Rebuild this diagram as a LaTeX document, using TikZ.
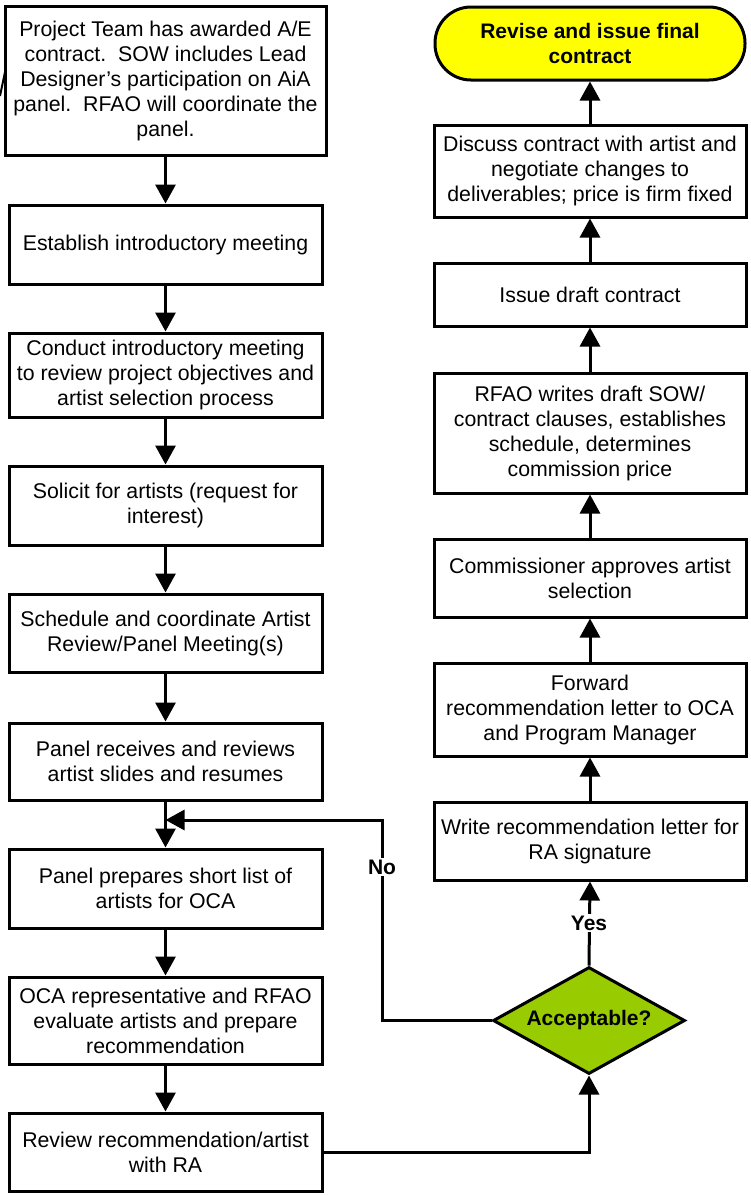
\documentclass[tikz,border=0pt]{standalone}
\usepackage{fontspec}
\setmainfont{Liberation Sans}
\usetikzlibrary{shapes.geometric,arrows.meta}
\definecolor{termyellow}{RGB}{255,255,0}
\definecolor{diagreen}{RGB}{153,204,0}
\begin{document}
\begin{tikzpicture}[x=1pt,y=-1pt,
  box/.style={draw,line width=3pt,fill=white,align=center,inner sep=0pt,
    font=\fontsize{21.3}{25}\selectfont},
  lbox/.style={box,minimum width=313pt},
  rbox/.style={box,minimum width=312pt},
  arr/.style={line width=3pt,-{Triangle[length=19pt,width=20pt]}},
  lbl/.style={font=\fontsize{21}{25}\selectfont\bfseries,fill=white,inner sep=2pt}]
\path[use as bounding box, fill=white] (0,0) rectangle (751,1195);

% left column
\node[box,minimum width=321pt,minimum height=149pt] (b1) at (165.5,80.5)
  {Project Team has awarded A/E\\contract.\ \ SOW includes Lead\\Designer’s participation on AiA\\panel.\ \ RFAO will coordinate the\\panel.};
\node[lbox,minimum height=79pt] (b2) at (165.5,244.5) {Establish introductory meeting};
\node[lbox,minimum height=84pt] (b3) at (165.5,375) {Conduct introductory meeting\\to review project objectives and\\artist selection process};
\node[lbox,minimum height=79pt] (b4) at (165.5,505.5) {Solicit for artists (request for\\interest)};
\node[lbox,minimum height=78pt] (b5) at (165.5,633) {Schedule and coordinate Artist\\Review/Panel Meeting(s)};
\node[lbox,minimum height=77pt] (b6) at (165.5,761.5) {Panel receives and reviews\\artist slides and resumes};
\node[lbox,minimum height=79pt] (b7) at (165.5,888.5) {Panel prepares short list of\\artists for OCA};
\node[lbox,minimum height=87pt] (b8) at (165.5,1020.5) {OCA representative and RFAO\\evaluate artists and prepare\\recommendation};
\node[lbox,minimum height=78pt] (b9) at (165.5,1152) {Review recommendation/artist\\with RA};

% right column
\node[draw,line width=3pt,fill=termyellow,rounded corners=36pt,minimum width=310pt,
  minimum height=73pt,inner sep=0pt,align=center,
  font=\fontsize{21}{25}\selectfont\bfseries] (t) at (590,43.5) {Revise and issue final\\contract};
\node[rbox,minimum height=92pt] (r1) at (590,171) {Discuss contract with artist and\\negotiate changes to\\deliverables; price is firm fixed};
\node[rbox,minimum height=63pt] (r2) at (590,294.5) {Issue draft contract};
\node[rbox,minimum height=120pt] (r3) at (590,433) {RFAO writes draft SOW/\\contract clauses, establishes\\schedule, determines\\commission price};
\node[rbox,minimum height=78pt] (r4) at (590,578) {Commissioner approves artist\\selection};
\node[rbox,minimum height=93pt] (r5) at (590,709.5) {Forward\\recommendation letter to OCA\\and Program Manager};
\node[rbox,minimum height=78pt] (r6) at (590,841) {Write recommendation letter for\\RA signature};
\node[diamond,aspect=1.8,draw,line width=3pt,fill=diagreen,minimum width=192pt,minimum height=107pt,
  inner sep=0pt,font=\fontsize{21}{25}\selectfont\bfseries] (d) at (589,1020.5) {Acceptable?};

% left column arrows
\draw[arr] (b1) -- (b2);
\draw[arr] (b2) -- (b3);
\draw[arr] (b3) -- (b4);
\draw[arr] (b4) -- (b5);
\draw[arr] (b5) -- (b6);
\draw[arr] (b6) -- (b7);
\draw[arr] (b7) -- (b8);
\draw[arr] (b8) -- (b9);

% to diamond
\draw[arr] (b9.east) -| (d.south);

% yes
\draw[arr] (d.north) -- (r6.south);
\node[lbl] (yes) at (589,923) {Yes};

% no loop
\coordinate (fb) at (382,820);
\coordinate (mg) at (165.5,820);
\draw[arr] (d.west) -| (fb) -- (mg);
\node[lbl] (no) at (382,867) {No};

% right column arrows
\draw[arr] (r6) -- (r5);
\draw[arr] (r5) -- (r4);
\draw[arr] (r4) -- (r3);
\draw[arr] (r3) -- (r2);
\draw[arr] (r2) -- (r1);
\draw[arr] (r1) -- (t);

% stray line at left edge
\draw[line width=2pt] (0,96) -- (5,72);
\end{tikzpicture}
\end{document}
